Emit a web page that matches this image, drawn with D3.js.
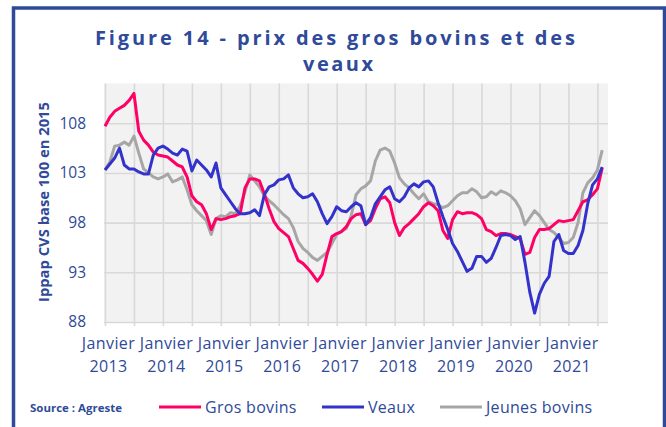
<!DOCTYPE html>
<html>
<head>
<meta charset="utf-8">
<script src="https://cdn.jsdelivr.net/npm/d3@7"></script>
<style>
  body { margin: 0; background: #fff; }
  svg { display: block; font-family: "Open Sans", sans-serif; }
</style>
</head>
<body>
<svg id="chart"></svg>
<script>
// monthly index, 0 = janvier 2013 ... 103 = août 2021
const grosBovins = [107.7,108.6,109.2,109.5,109.8,110.3,111.0,107.2,106.3,105.8,
  105.1,104.8,104.7,104.6,104.2,103.8,103.6,102.6,100.7,100.1,
  99.8,98.9,97.3,98.4,98.3,98.4,98.6,98.7,98.9,101.5,
  102.4,102.4,102.2,100.9,99.4,98.1,97.4,97.0,96.6,95.4,
  94.2,93.9,93.4,92.8,92.1,92.8,94.8,96.6,96.9,97.1,
  97.6,98.4,98.8,98.9,97.8,98.2,99.4,100.4,100.6,100.0,
  98.0,96.7,97.5,97.9,98.4,98.9,99.6,100.0,99.7,99.2,
  97.2,96.4,98.3,99.1,98.9,99.0,99.0,98.8,98.4,97.3,
  97.1,96.7,96.9,96.9,96.8,96.6,96.4,94.8,95.0,96.5,
  97.3,97.3,97.4,97.8,98.2,98.1,98.2,98.3,99.2,100.1,
  100.3,100.8,101.4,103.5];

const veaux = [103.3,103.9,104.5,105.5,103.8,103.4,103.4,103.1,102.9,102.9,
  104.8,105.5,105.7,105.4,105.0,104.8,105.4,105.2,103.2,104.3,
  103.8,103.3,102.6,104.0,101.5,100.8,100.1,99.4,98.9,98.9,
  99.0,99.3,98.7,100.8,101.6,101.8,102.3,102.4,102.8,101.5,
  100.9,100.5,100.6,100.9,100.1,98.9,97.9,98.6,99.6,99.2,
  99.1,99.6,100.0,99.7,97.8,98.5,99.9,100.6,101.3,101.6,
  100.4,100.1,100.6,101.5,101.9,101.6,102.1,102.2,101.6,100.0,
  98.6,97.3,95.9,95.1,94.1,93.1,93.4,94.6,94.6,94.0,
  94.4,95.5,96.7,96.8,96.7,96.3,96.6,94.0,91.0,88.9,
  90.8,91.9,92.6,96.1,96.8,95.2,94.9,94.9,95.7,97.2,
  99.9,101.8,102.4,103.6];

const jeunesBovins = [103.3,104.1,105.7,105.8,106.1,105.8,106.7,105.0,103.4,103.0,
  102.6,102.4,102.6,102.9,102.1,102.3,102.6,101.3,99.8,99.2,
  98.7,98.2,96.8,98.4,98.7,98.6,99.0,98.9,99.7,101.1,
  102.8,102.2,101.6,100.7,100.2,99.8,99.3,98.8,98.4,97.5,
  96.1,95.4,95.0,94.5,94.2,94.6,95.0,95.9,96.8,97.1,
  97.4,98.7,100.8,101.4,101.7,102.2,104.2,105.3,105.5,105.2,
  104.0,102.5,101.9,101.5,100.9,100.4,100.9,100.1,99.9,99.8,
  99.5,99.7,100.2,100.7,101.0,101.0,101.4,101.1,100.5,100.6,
  101.1,100.8,101.2,101.0,100.7,100.2,99.4,97.8,98.5,99.2,
  98.7,98.0,97.3,97.0,96.5,95.9,96.0,96.5,98.0,101.0,
  102.0,102.5,103.3,105.3];

const xTickLabels = ['Janvier 2013','Janvier 2014','Janvier 2015','Janvier 2016','Janvier 2017',
  'Janvier 2018','Janvier 2019','Janvier 2020','Janvier 2021'];
const yTicks = [88, 93, 98, 103, 108];

const series = [
  { name: 'Jeunes bovins', values: jeunesBovins, color: '#a6a6a6' },
  { name: 'Gros bovins', values: grosBovins, color: '#ff0066' },
  { name: 'Veaux', values: veaux, color: '#3333cc' }
];
const legendOrder = ['Gros bovins', 'Veaux', 'Jeunes bovins'];

const W = 666, H = 427;
const blue = '#2f4a99';
const pLeft = 104, pRight = 608, pTop = 83.5, pBottom = 322;

const svg = d3.select('#chart').attr('width', W).attr('height', H);

// frame
svg.append('rect')
  .attr('x', 13.5).attr('y', 8)
  .attr('width', 651).attr('height', 440)
  .attr('fill', 'none')
  .attr('stroke', blue)
  .attr('stroke-width', 3.5);

// title
const title = svg.append('text')
  .attr('text-anchor', 'middle')
  .attr('fill', blue)
  .attr('font-weight', 'bold')
  .attr('font-size', 20);
title.append('tspan').attr('x', 335).attr('y', 45)
  .attr('textLength', 480).attr('lengthAdjust', 'spacing')
  .text('Figure 14 - prix des gros bovins et des');
title.append('tspan').attr('x', 338).attr('y', 71)
  .attr('textLength', 70).attr('lengthAdjust', 'spacing')
  .text('veaux');

const x = d3.scaleLinear().domain([0, 104.2]).range([pLeft + 1, pRight]);
const y = d3.scaleLinear().domain([88, 112]).range([pBottom, pTop]);

// plot background
svg.append('rect')
  .attr('x', pLeft).attr('y', pTop)
  .attr('width', pRight - pLeft).attr('height', pBottom - pTop)
  .attr('fill', '#f2f2f2');

// grid
const gridX = svg.append('g')
  .attr('transform', `translate(0,${pBottom + 4})`)
  .call(d3.axisBottom(x)
    .tickValues(d3.range(0, 103, 6))
    .tickSize(-(pBottom - pTop + 4))
    .tickFormat(''));
gridX.select('.domain').remove();
gridX.selectAll('line').attr('stroke', '#d9d9d9').attr('stroke-width', 1.6);

const gridY = svg.append('g')
  .attr('transform', `translate(${pLeft},0)`)
  .call(d3.axisLeft(y)
    .tickValues(yTicks)
    .tickSize(-(pRight - pLeft))
    .tickFormat(''));
gridY.select('.domain').remove();
gridY.selectAll('line').attr('stroke', '#d9d9d9').attr('stroke-width', 1.6);

// y labels
const yAxis = svg.append('g')
  .attr('transform', `translate(${pLeft},0)`)
  .call(d3.axisLeft(y).tickValues(yTicks).tickSize(0).tickPadding(18));
yAxis.select('.domain').remove();
yAxis.selectAll('text')
  .attr('fill', blue)
  .attr('font-size', 15.5)
  .attr('font-family', '"Open Sans", sans-serif');

// x labels
const xAxis = svg.append('g')
  .attr('transform', `translate(3,${pBottom})`)
  .call(d3.axisBottom(x)
    .tickValues(xTickLabels.map((d, i) => i * 12))
    .tickSize(0)
    .tickFormat(''));
xAxis.select('.domain').remove();
xAxis.selectAll('.tick text')
  .attr('fill', blue)
  .attr('font-size', 16)
  .attr('letter-spacing', 0.4)
  .attr('font-family', '"Open Sans", sans-serif')
  .attr('y', 0)
  .attr('dy', null)
  .each(function(d, i) {
    const parts = xTickLabels[i].split(' ');
    const t = d3.select(this);
    t.append('tspan').attr('x', 0).attr('y', 27).text(parts[0]);
    t.append('tspan').attr('x', 0).attr('y', 50).text(parts[1]);
  });

// y title
svg.append('text')
  .attr('transform', 'translate(49,202) rotate(-90)')
  .attr('text-anchor', 'middle')
  .attr('fill', blue)
  .attr('font-weight', 'bold')
  .attr('font-size', 14)
  .attr('textLength', 200)
  .attr('lengthAdjust', 'spacingAndGlyphs')
  .text('Ippap CVS base 100 en 2015');

// lines
const line = d3.line()
  .x((d, i) => x(i))
  .y(d => y(d));

svg.append('g').selectAll('path')
  .data(series)
  .enter()
  .append('path')
  .attr('d', d => line(d.values))
  .attr('fill', 'none')
  .attr('stroke', d => d.color)
  .attr('stroke-width', 3)
  .attr('stroke-linejoin', 'round');

// source + legend
svg.append('text')
  .attr('x', 30).attr('y', 412)
  .attr('fill', blue)
  .attr('font-weight', 'bold')
  .attr('font-size', 11)
  .attr('textLength', 92)
  .attr('lengthAdjust', 'spacingAndGlyphs')
  .text('Source : Agreste');

const legendX = { 'Gros bovins': 159, 'Veaux': 322, 'Jeunes bovins': 440 };
const leg = svg.append('g').selectAll('g')
  .data(legendOrder.map(n => series.find(s => s.name === n)))
  .enter()
  .append('g')
  .attr('transform', d => `translate(${legendX[d.name]},407)`);
leg.append('line')
  .attr('x1', 0).attr('x2', 42)
  .attr('stroke', d => d.color)
  .attr('stroke-width', 3);
leg.append('text')
  .attr('x', 46)
  .attr('dy', '0.35em')
  .attr('fill', blue)
  .attr('font-size', 16)
  .attr('letter-spacing', 0.3)
  .text(d => d.name);
</script>
</body>
</html>
